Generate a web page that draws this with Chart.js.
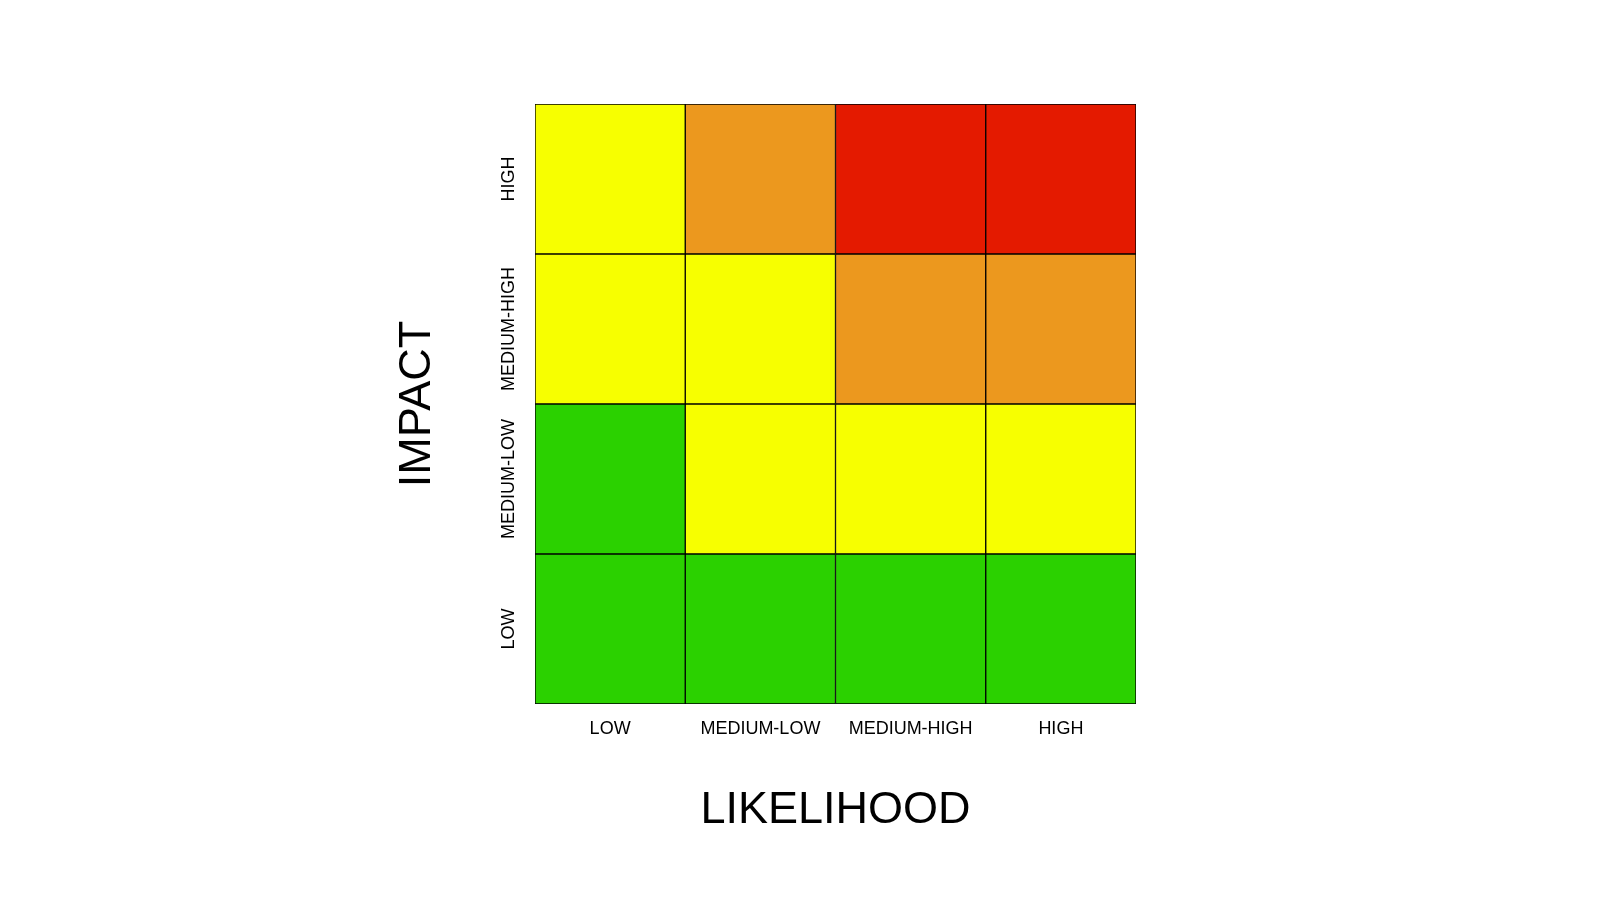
<!DOCTYPE html>
<html>
<head>
<meta charset="utf-8">
<script src="https://cdn.jsdelivr.net/npm/chart.js@4.4.0/dist/chart.umd.min.js"></script>
<style>
  html, body { margin: 0; padding: 0; background: #fff; }
  #wrap { width: 1600px; height: 900px; }
</style>
</head>
<body>
<div id="wrap"><canvas id="riskChart" width="1600" height="900"></canvas></div>
<script>
// =========================
// DATA
// =========================
const likelihoodLabels = ["LOW", "MEDIUM-LOW", "MEDIUM-HIGH", "HIGH"];
const impactLabels = ["LOW", "MEDIUM-LOW", "MEDIUM-HIGH", "HIGH"];

// risk level per cell, one row per impact level (bottom to top), columns = likelihood
const riskImpactLow = ["green", "green", "green", "green"];
const riskImpactMedLow = ["green", "yellow", "yellow", "yellow"];
const riskImpactMedHigh = ["yellow", "yellow", "orange", "orange"];
const riskImpactHigh = ["yellow", "orange", "red", "red"];

const riskRows = [riskImpactLow, riskImpactMedLow, riskImpactMedHigh, riskImpactHigh];

const riskColors = {
    green: "rgb(43, 209, 0)",
    yellow: "rgb(247, 255, 0)",
    orange: "rgb(236, 152, 30)",
    red: "rgb(228, 26, 0)",
};

const FONT = "'Liberation Sans', Arial, sans-serif";

// each impact row becomes a floating bar dataset spanning [row, row + 1]
const datasets = riskRows.map((row, r) => ({
    label: impactLabels[r],
    data: row.map(() => [r, r + 1]),
    backgroundColor: row.map((level) => riskColors[level]),
    borderColor: "#000",
    borderWidth: 1,
    borderSkipped: false,
    grouped: false,
    barPercentage: 1,
    categoryPercentage: 1,
}));

// =========================
// TEXT PLUGIN (y tick labels + axis titles)
// =========================
const labelsPlugin = {
    id: "riskLabels",
    afterDraw(chart) {
        const { ctx, chartArea, scales } = chart;
        ctx.save();
        ctx.fillStyle = "#000";

        // y tick labels, rotated
        ctx.font = "18px " + FONT;
        ctx.textAlign = "center";
        ctx.textBaseline = "alphabetic";
        impactLabels.forEach((lbl, i) => {
            const y = scales.y.getPixelForValue(i + 0.5);
            ctx.save();
            ctx.translate(chartArea.left - 21, y);
            ctx.rotate(-Math.PI / 2);
            ctx.fillText(lbl, 0, 0);
            ctx.restore();
        });

        // axis titles
        ctx.font = "45px " + FONT;
        const midX = (chartArea.left + chartArea.right) / 2;
        const midY = (chartArea.top + chartArea.bottom) / 2;
        ctx.fillText("LIKELIHOOD", midX, chartArea.bottom + 119);

        ctx.save();
        ctx.translate(chartArea.left - 105, midY);
        ctx.rotate(-Math.PI / 2);
        ctx.fillText("IMPACT", 0, 0);
        ctx.restore();

        ctx.restore();
    },
};

// =========================
// CHART
// =========================
const ctx = document.getElementById("riskChart").getContext("2d");

new Chart(ctx, {
    type: "bar",
    data: {
        labels: likelihoodLabels,
        datasets: datasets,
    },
    options: {
        responsive: false,
        animation: false,
        layout: {
            padding: { left: 535, top: 104, right: 464, bottom: 156 },
        },
        scales: {
            x: {
                grid: { display: false, drawTicks: false },
                border: { display: false },
                ticks: {
                    color: "#000",
                    padding: 14,
                    font: { family: FONT, size: 18 },
                    maxRotation: 0,
                },
                afterFit(scale) {
                    scale.height = 40;
                },
            },
            y: {
                display: false,
                min: 0,
                max: 4,
            },
        },
        plugins: {
            legend: { display: false },
            tooltip: { enabled: false },
        },
    },
    plugins: [labelsPlugin],
});
</script>
</body>
</html>
